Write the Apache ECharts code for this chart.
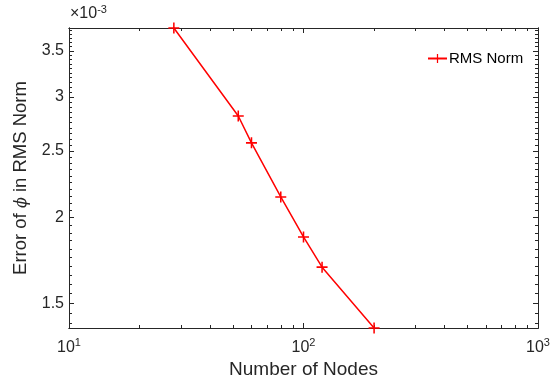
<!DOCTYPE html>
<html>
<head>
<meta charset="utf-8">
<script src="https://cdn.jsdelivr.net/npm/echarts@6/dist/echarts.min.js"></script>
<style>
  html, body { margin: 0; padding: 0; background: #fff; }
  #chart { width: 551px; height: 379px; }
</style>
</head>
<body>
<div id="chart"></div>
<script>
// ===== data =====
const nodes  = [28, 52.7, 60, 80, 100, 120, 200];
const errors = [3.78e-3, 2.813e-3, 2.570e-3, 2.143e-3, 1.874e-3, 1.693e-3, 1.380e-3];

const xMajor = [10, 100, 1000];
const xMinor = [20, 30, 40, 50, 60, 70, 80, 90, 200, 300, 400, 500, 600, 700, 800, 900];
const yMajor = [1.5e-3, 2e-3, 2.5e-3, 3e-3, 3.5e-3];
const yMin = 1.38e-3, yMax = 3.78e-3;

// minor y ticks every 0.05e-3 (axis decoration only)
const yMinor = [];
for (let k = 28; k <= 75; k++) yMinor.push(+(k * 0.05e-3).toFixed(7));

const ink = '#262626';
const plus = 'path://M4.3,0H5.7V4.3H10V5.7H5.7V10H4.3V5.7H0V4.3H4.3Z';
const font = 'Liberation Sans, Arial, Helvetica, sans-serif';

function xAx(pos, ticks, len, opts = {}) {
  return Object.assign({
    type: 'log', logBase: 10, min: 10, max: 1000, position: pos,
    axisLine: { show: true, lineStyle: { color: ink, width: 1 } },
    axisTick: { show: true, inside: true, length: len, customValues: ticks, lineStyle: { color: ink } },
    axisLabel: { show: false },
    splitLine: { show: false }
  }, opts);
}
function yAx(pos, ticks, len, opts = {}) {
  return Object.assign({
    type: 'log', logBase: 10, min: yMin, max: yMax, position: pos,
    axisLine: { show: true, lineStyle: { color: ink, width: 1 } },
    axisTick: { show: true, inside: true, length: len, customValues: ticks, lineStyle: { color: ink } },
    axisLabel: { show: false },
    splitLine: { show: false }
  }, opts);
}

const chart = echarts.init(document.getElementById('chart'), null, { renderer: 'canvas' });

chart.setOption({
  animation: false,
  textStyle: { fontFamily: font },
  grid: { left: 69, right: 13, top: 28, bottom: 51, containLabel: false, outerBoundsMode: 'none' },
  xAxis: [
    xAx('bottom', xMajor, 5, {
      name: 'Number of Nodes', nameLocation: 'middle', nameGap: 27,
      nameTextStyle: { color: ink, fontSize: 19, fontFamily: font },
      axisLabel: {
        show: true, customValues: xMajor, margin: 9, color: ink, fontSize: 16, fontFamily: font,
        formatter: v => '10{sup|' + Math.round(Math.log10(v)) + '}',
        rich: { sup: { fontSize: 11, verticalAlign: 'top', padding: [0, 0, 10, 0], color: ink, fontFamily: font } }
      }
    }),
    xAx('bottom', xMinor, 3),
    xAx('top', xMajor, 5),
    xAx('top', xMinor, 3)
  ],
  yAxis: [
    yAx('left', yMajor, 5, {
      name: 'Error of {i|ϕ} in RMS Norm', nameLocation: 'middle', nameGap: 36,
      nameTextStyle: {
        color: ink, fontSize: 18.5, fontFamily: font,
        rich: { i: { fontStyle: 'italic', fontSize: 16, color: ink, fontFamily: 'DejaVu Serif, serif' } }
      },
      axisLabel: {
        show: true, customValues: yMajor, margin: 5, color: ink, fontSize: 16, fontFamily: font,
        formatter: v => String(+(v * 1000).toFixed(1))
      }
    }),
    yAx('left', yMinor, 3, {
      // exponent note above the y axis
      name: '×10{s|-3}', nameLocation: 'end', nameGap: 4,
      nameTextStyle: {
        color: ink, fontSize: 16, fontFamily: font, align: 'left', padding: [0, 0, 0, 1],
        rich: { s: { fontSize: 11, fontFamily: font, color: ink, verticalAlign: 'top', padding: [0, 0, 9, 0] } }
      }
    }),
    yAx('right', yMajor, 5),
    yAx('right', yMinor, 3)
  ],
  legend: {
    left: 422, top: 46,
    itemWidth: 19, itemHeight: 11, itemGap: 2,
    textStyle: { color: '#000', fontSize: 15, fontFamily: font, padding: [0, 0, 0, -3] },
    data: ['RMS Norm']
  },
  series: [{
    name: 'RMS Norm', type: 'line', xAxisIndex: 0, yAxisIndex: 0,
    data: nodes.map((n, i) => [n, errors[i]]),
    clip: false,
    symbol: plus, symbolSize: 11,
    itemStyle: { color: '#ff0000' },
    lineStyle: { color: '#ff0000', width: 1.5 }
  }]
});
</script>
</body>
</html>
